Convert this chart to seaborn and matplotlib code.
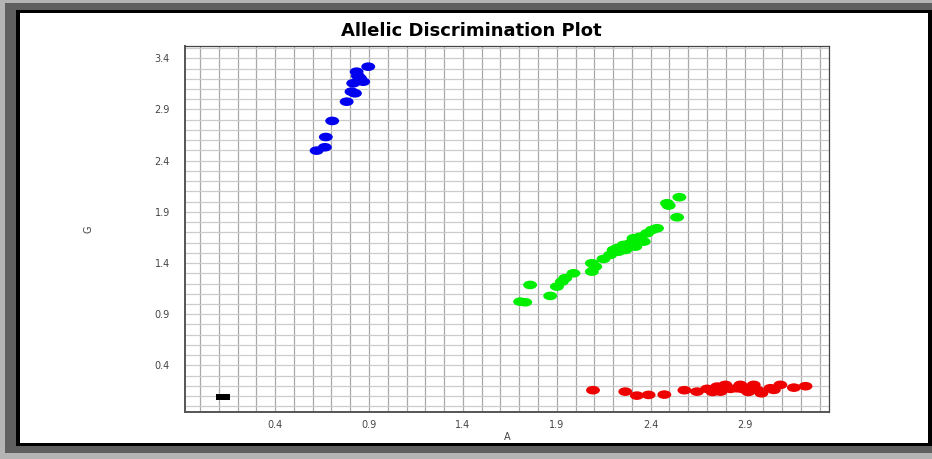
"""
Allelic discrimination plot (A vs G allele signal)
Output: out.png
"""

import numpy as np
import pandas as pd
import matplotlib
matplotlib.use("Agg")
import matplotlib.pyplot as plt
from matplotlib.path import Path
from matplotlib.transforms import Affine2D
from matplotlib.patches import Rectangle
from matplotlib.ticker import MultipleLocator, FixedLocator
import seaborn as sns

# --- data ---
gg_a = [0.896, 0.834, 0.841, 0.852, 0.869, 0.816, 0.807, 0.825, 0.781, 0.704, 0.670, 0.665, 0.621]
gg_g = [3.318, 3.269, 3.227, 3.205, 3.171, 3.156, 3.074, 3.058, 2.976, 2.788, 2.631, 2.531, 2.498]

ag_a = [2.553, 2.487, 2.496, 2.541, 2.434, 2.407, 2.381, 2.345, 2.363, 2.309, 2.292, 2.318,
        2.256, 2.265, 2.221, 2.203, 2.229, 2.185, 2.149, 2.087, 2.105, 2.087, 1.989, 1.945,
        1.927, 1.901, 1.865, 1.758, 1.705, 1.732]
ag_g = [2.043, 1.984, 1.961, 1.847, 1.740, 1.723, 1.691, 1.658, 1.609, 1.642, 1.593, 1.560,
        1.577, 1.528, 1.545, 1.528, 1.511, 1.480, 1.440, 1.398, 1.365, 1.316, 1.300, 1.252,
        1.218, 1.170, 1.079, 1.186, 1.023, 1.017]

aa_a = [2.093, 2.265, 2.327, 2.389, 2.473, 2.580, 2.647, 2.701, 2.730, 2.754, 2.772, 2.798,
        2.825, 2.861, 2.878, 2.894, 2.920, 2.949, 2.967, 2.990, 3.038, 3.056, 3.091, 3.163, 3.225]
aa_g = [0.158, 0.144, 0.105, 0.112, 0.115, 0.158, 0.144, 0.171, 0.141, 0.193, 0.144, 0.210,
        0.171, 0.177, 0.210, 0.168, 0.141, 0.210, 0.161, 0.128, 0.177, 0.161, 0.210, 0.183, 0.197]

ntc_a = [0.12]
ntc_g = [0.09]

x_ticks = [0.4, 0.9, 1.4, 1.9, 2.4, 2.9]
y_ticks = [0.4, 0.9, 1.4, 1.9, 2.4, 2.9, 3.4]

palette = {"G/G": "#0000ee", "A/G": "#00ee00", "A/A": "#ee0000"}

W, H = 932, 459


def px_rect(fig, x0, y0, x1, y1, color):
    """Add a rectangle given in pixel coords (y from top)"""
    fig.patches.append(Rectangle((x0 / W, 1 - y1 / H), (x1 - x0) / W, (y1 - y0) / H,
                                 transform=fig.transFigure, facecolor=color,
                                 edgecolor="none", zorder=-10))


def main():
    sns.set_style("white")
    plt.rcParams["font.family"] = ["DejaVu Sans"]

    df = pd.concat([
        pd.DataFrame({"A": gg_a, "G": gg_g, "call": "G/G"}),
        pd.DataFrame({"A": ag_a, "G": ag_g, "call": "A/G"}),
        pd.DataFrame({"A": aa_a, "G": aa_g, "call": "A/A"}),
    ], ignore_index=True)
    ntc = pd.DataFrame({"A": ntc_a, "G": ntc_g})

    fig = plt.figure(figsize=(W / 100, H / 100), dpi=100, facecolor="#b4b4b4")
    # window frame
    px_rect(fig, 5, 3, 932, 453, "#5f5f5f")
    px_rect(fig, 16, 10, 932, 446, "#000000")
    px_rect(fig, 20, 13, 928, 443, "#ffffff")

    ax = fig.add_axes([185 / W, 1 - 412 / H, (829 - 185) / W, (412 - 46) / H])

    ellipse = Path.unit_circle().transformed(Affine2D().scale(1.0, 0.62))
    box = Path([(-1, -0.42), (1, -0.42), (1, 0.42), (-1, 0.42), (-1, -0.42)],
               [Path.MOVETO, Path.LINETO, Path.LINETO, Path.LINETO, Path.CLOSEPOLY])

    sns.scatterplot(data=df, x="A", y="G", hue="call", palette=palette, marker=ellipse,
                    s=100, linewidth=0, legend=False, ax=ax, zorder=3)
    sns.scatterplot(data=ntc, x="A", y="G", color="black", marker=box,
                    s=100, linewidth=0, legend=False, ax=ax, zorder=3)

    ax.set_xlim(-0.08, 3.35)
    ax.set_ylim(-0.055, 3.52)
    ax.xaxis.set_major_locator(FixedLocator(x_ticks))
    ax.yaxis.set_major_locator(FixedLocator(y_ticks))
    ax.xaxis.set_minor_locator(MultipleLocator(0.1))
    ax.yaxis.set_minor_locator(MultipleLocator(0.1))
    ax.set_xticklabels([f"{v:.1f}" for v in x_ticks])
    ax.set_yticklabels([f"{v:.1f}" for v in y_ticks])

    ax.grid(True, which="both", axis="x", color="#a8a8a8", linewidth=0.9)
    ax.grid(True, which="both", axis="y", color="#cccccc", linewidth=0.9)
    ax.set_axisbelow(True)

    ax.tick_params(axis="both", which="both", direction="out", length=3, width=0.8,
                   color="#777777", labelsize=7, labelcolor="#444444")
    ax.tick_params(axis="x", which="major", pad=3)
    ax.tick_params(axis="y", which="major", pad=8)

    for side in ["left", "bottom"]:
        ax.spines[side].set_color("#555555")
        ax.spines[side].set_linewidth(1.4)
    for side in ["top", "right"]:
        ax.spines[side].set_color("#444444")
        ax.spines[side].set_linewidth(0.9)

    ax.set_xlabel("A", fontsize=7, color="#444444", labelpad=1)
    ax.set_ylabel("G", fontsize=7, color="#444444", labelpad=44)

    fig.text(471 / W, 1 - 31 / H, "Allelic Discrimination Plot", ha="center", va="center",
             fontsize=13, fontweight="bold", color="black")

    fig.savefig("out.png", dpi=100, facecolor=fig.get_facecolor())
    plt.close(fig)


if __name__ == "__main__":
    main()
